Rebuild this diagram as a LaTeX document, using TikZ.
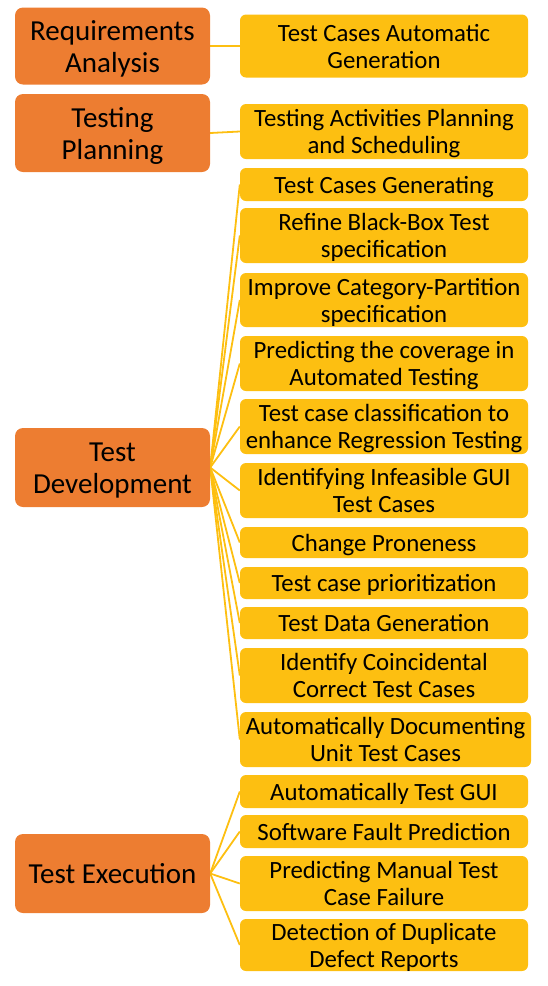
\documentclass[tikz,border=0pt]{standalone}
\usepackage{fontspec}
\setmainfont{Carlito}
\usetikzlibrary{backgrounds}
\definecolor{org}{RGB}{237,125,49}
\definecolor{ylw}{RGB}{253,191,17}
\newcommand\oa{\rule{0pt}{30pt}}
\newcommand\ob{\rule[-9.6pt]{0pt}{9.6pt}}
\newcommand\ya{\rule{0pt}{25.7pt}}
\newcommand\yb{\rule[-8.1pt]{0pt}{8.1pt}}
\begin{document}
\begin{tikzpicture}[x=1pt,y=-1pt,
  otext/.style={align=center, inner sep=0pt, font=\fontsize{29}{32}\selectfont},
  ytext/.style={align=center, inner sep=0pt, font=\fontsize{24.8}{27}\selectfont},
  obox/.style={fill=org, rounded corners=8pt, inner sep=0pt, minimum width=195pt,
    label={[otext]center:{\oa #1\ob}}},
  ybox/.style={fill=ylw, rounded corners=6pt, inner sep=0pt, minimum width=288pt,
    label={[ytext]center:{\ya #1\yb}}},
  link/.style={draw=ylw, line width=1.8pt}]
\useasboundingbox (0,0) rectangle (547,986);

% orange phase boxes
\node[obox={Requirements\\Analysis}, minimum height=77pt] (ra) at (112.5,46) {};
\node[obox={Testing\\Planning}, minimum height=78pt] (tp) at (112.5,133) {};
\node[obox={Test\\Development}, minimum height=79pt] (td) at (112.5,467.5) {};
\node[obox={Test Execution}, minimum height=79pt] (te) at (112.5,873.5) {};

% yellow task boxes
\node[ybox={Test Cases Automatic\\Generation}, minimum height=63pt] (y1) at (384,46) {};
\node[ybox={Testing Activities Planning\\and Scheduling}, minimum height=55pt] (y2) at (384,131.5) {};
\node[ybox={Test Cases Generating}, minimum height=33pt] (y3) at (384,184.5) {};
\node[ybox={Refine Black-Box Test\\specification}, minimum height=55pt] (y4) at (384,235.5) {};
\node[ybox={Improve Category-Partition\\specification}, minimum height=54pt] (y5) at (384,300) {};
\node[ybox={Predicting the coverage in\\Automated Testing}, minimum height=55pt] (y6) at (384,363.5) {};
\node[ybox={Test case classification to\\enhance Regression Testing}, minimum height=55pt] (y7) at (384,426.5) {};
\node[ybox={Identifying Infeasible GUI\\Test Cases}, minimum height=55pt] (y8) at (384,490.5) {};
\node[ybox={Change Proneness}, minimum height=31pt] (y9) at (384,542.5) {};
\node[ybox={Test case prioritization}, minimum height=32pt] (y10) at (384,583) {};
\node[ybox={Test Data Generation}, minimum height=32pt] (y11) at (384,623) {};
\node[ybox={Identify Coincidental\\Correct Test Cases}, minimum height=55pt] (y12) at (384,675.5) {};
\node[ybox={Automatically Documenting\\Unit Test Cases}, minimum height=55pt, minimum width=291pt] (y13) at (385.5,739.5) {};
\node[ybox={Automatically Test GUI}, minimum height=33pt] (y14) at (384,791.5) {};
\node[ybox={Software Fault Prediction}, minimum height=33pt] (y15) at (384,831.5) {};
\node[ybox={Predicting Manual Test\\Case Failure}, minimum height=55pt] (y16) at (384,883.5) {};
\node[ybox={Detection of Duplicate\\Defect Reports}, minimum height=52pt] (y17) at (384,945) {};

\begin{scope}[on background layer]
\draw[link] (ra.east) -- (y1.west);
\draw[link] (tp.east) -- (y2.west);
\foreach \i in {3,...,13} {\draw[link] (td.east) -- (y\i.west);}
\foreach \i in {14,...,17} {\draw[link] (te.east) -- (y\i.west);}
\end{scope}
\end{tikzpicture}
\end{document}
